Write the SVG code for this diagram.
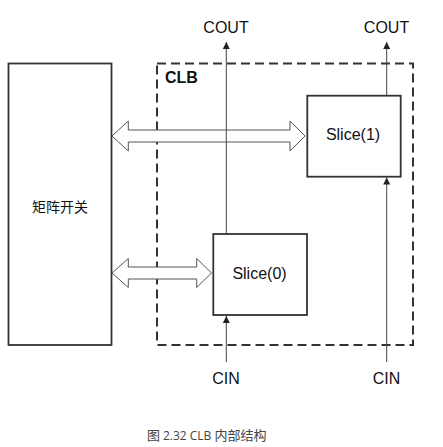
<svg xmlns="http://www.w3.org/2000/svg" width="443" height="447" viewBox="0 0 443 447">
<defs>
<marker id="ah" markerWidth="8" markerHeight="10" refX="7" refY="5" orient="auto" markerUnits="userSpaceOnUse">
<path d="M0,1.5 L7,5 L0,8.5 Z" fill="#222"/>
</marker>
<style>
.box{fill:#fff;stroke:#333;stroke-width:1.8}
.dash{fill:none;stroke:#333;stroke-width:2;stroke-dasharray:9 5}
.wire{fill:none;stroke:#444;stroke-width:1}
.darr{fill:#fff;stroke:#555;stroke-width:1}
.lbl{font-family:"Liberation Sans",Arial,sans-serif;font-size:16px;fill:#111}
.cjk{font-family:"Noto Sans CJK SC","Liberation Sans",sans-serif;font-size:14px;fill:#111}
.cap{font-family:"Noto Sans CJK SC","Open Sans",sans-serif;font-size:13px;fill:#444}
</style>
</defs>
<rect width="443" height="447" fill="#fff"/>
<g id="clb">
<rect class="dash" x="157" y="63.5" width="256" height="281.5"/>
<text x="165" y="82.5" class="lbl" style="font-weight:bold;font-size:16px">CLB</text>
</g>
<g id="matrix">
<rect class="box" x="8.5" y="63.5" width="103" height="281.5"/>
<text x="60" y="211.5" class="cjk" text-anchor="middle">矩阵开关</text>
</g>
<g id="connectors">
<path class="darr" d="M112,136 L128.3,121 L128.3,130 L290,130 L290,121 L305,136 L290,151 L290,142 L128.3,142 L128.3,151 Z"/>
<path class="darr" d="M112,273 L128.3,258.5 L128.3,267 L196.7,267 L196.7,258.5 L211.5,273 L196.7,287.5 L196.7,279 L128.3,279 L128.3,287.5 Z"/>
<line class="wire" x1="226.3" y1="234" x2="226.3" y2="42" marker-end="url(#ah)"/>
<line class="wire" x1="386.7" y1="95.5" x2="386.7" y2="42" marker-end="url(#ah)"/>
<line class="wire" x1="226.3" y1="362" x2="226.3" y2="316" marker-end="url(#ah)"/>
<line class="wire" x1="386.7" y1="362" x2="386.7" y2="177.5" marker-end="url(#ah)"/>
</g>
<g id="slice1">
<rect class="box" x="307.3" y="95.7" width="93.4" height="81"/>
<text x="353" y="140" class="lbl" text-anchor="middle">Slice(1)</text>
</g>
<g id="slice0">
<rect class="box" x="213.3" y="234" width="93.7" height="81"/>
<text x="259.5" y="278.5" class="lbl" text-anchor="middle">Slice(0)</text>
</g>
<g id="labels">
<text x="226" y="32.5" class="lbl" text-anchor="middle">COUT</text>
<text x="386.5" y="32.5" class="lbl" text-anchor="middle">COUT</text>
<text x="226" y="383.5" class="lbl" text-anchor="middle">CIN</text>
<text x="386.5" y="383.5" class="lbl" text-anchor="middle">CIN</text>
</g>
<text x="147" y="439.5" class="cap">图 <tspan style="font-family:'Open Sans','Liberation Sans',sans-serif;font-size:12px">2.32 CLB </tspan>内部结构</text>
</svg>
